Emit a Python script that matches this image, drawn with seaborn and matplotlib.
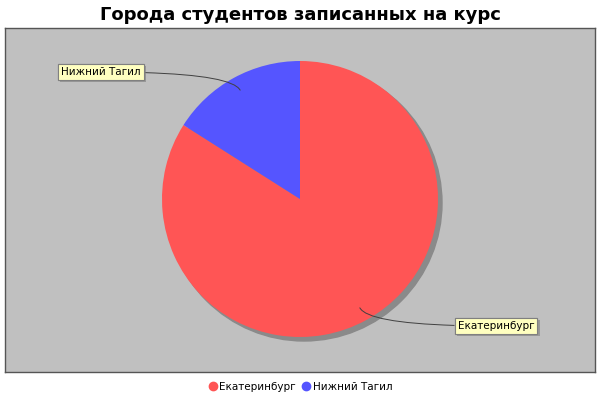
import numpy as np
import matplotlib
matplotlib.use('Agg')
import matplotlib.pyplot as plt
import matplotlib.patheffects as pe
from matplotlib.patches import Circle
import seaborn as sns

cities = ['Екатеринбург', 'Нижний Тагил']
students = [21, 4]
colors = ['#FF5555', '#5555FF']
title = 'Города студентов записанных на курс'

sns.set_theme(style='white')
plt.rcParams['font.family'] = ['DejaVu Sans']
plt.rcParams['text.color'] = 'black'

fig = plt.figure(figsize=(6, 4), dpi=100)
fig.patch.set_facecolor('white')

# plot area in pixel units: 590 x 344
ax = fig.add_axes([5 / 600, 28 / 400, 590 / 600, 344 / 400])
ax.set_facecolor('#C0C0C0')
for s in ax.spines.values():
    s.set_color('#555555')
    s.set_linewidth(1)

cx, cy, r = 295, 173, 138
ax.add_patch(Circle((cx + 4, cy - 4), r, color='#8A8A8A', zorder=1))
wedges, _ = ax.pie(students, colors=colors, startangle=90, counterclock=False,
                   center=(cx, cy), radius=r, frame=True,
                   wedgeprops=dict(linewidth=0))
for w in wedges:
    w.set_zorder(2)

ax.set_xlim(0, 590)
ax.set_ylim(0, 344)
ax.set_aspect('equal')
ax.set_xticks([])
ax.set_yticks([])

# labels with curved links
label_pos = {'Екатеринбург': (491, 46), 'Нижний Тагил': (96, 300)}
for w, name in zip(wedges, cities):
    mid_deg = (w.theta1 + w.theta2) / 2
    mid = np.deg2rad(mid_deg)
    px, py = cx + 0.9 * r * np.cos(mid), cy + 0.9 * r * np.sin(mid)
    t = ax.annotate(name, xy=(px, py), xytext=label_pos[name],
                    ha='center', va='center', fontsize=7.5, color='black', zorder=5,
                    bbox=dict(boxstyle='square,pad=0.3', fc='#FFFFC0', ec='#808080', lw=0.8),
                    arrowprops=dict(arrowstyle='-', color='#404040', lw=0.7,
                                    connectionstyle=f"angle3,angleA=0,angleB={mid_deg % 180:.1f}",
                                    shrinkA=0, shrinkB=0))
    t.get_bbox_patch().set_path_effects([
        pe.withSimplePatchShadow(offset=(1.5, -1.5), shadow_rgbFace='#808080', alpha=0.6),
        pe.Normal()])

fig.text(0.5, 1 - 15 / 400, title, ha='center', va='center',
         fontsize=13, fontweight='bold', color='black')

handles = [plt.Line2D([], [], marker='o', ls='', color=c, markersize=6) for c in colors]
fig.legend(handles, cities, loc='center', bbox_to_anchor=(0.5, 1 - 387 / 400),
           ncol=2, frameon=False, fontsize=7.5, handletextpad=0.1,
           columnspacing=0.5, handlelength=1, labelcolor='black')

fig.savefig('out.png', dpi=100)
